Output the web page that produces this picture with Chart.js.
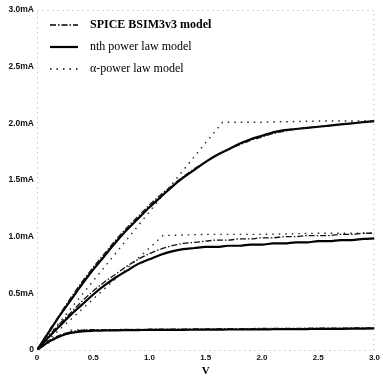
<!DOCTYPE html>
<html>
<head>
<meta charset="utf-8">
<script src="https://cdn.jsdelivr.net/npm/chart.js@4.4.0/dist/chart.umd.min.js"></script>
<style>
html, body { margin: 0; padding: 0; background: #fff; }
#wrap { width: 383px; height: 378px; }
</style>
</head>
<body>
<div id="wrap"><canvas id="myChart"></canvas></div>
<script>
// drain voltage (V) for the SPICE and nth power law curves
var voltage = [0, 0.1, 0.2, 0.3, 0.4, 0.5, 0.6, 0.7, 0.8, 0.9, 1.0, 1.1, 1.2, 1.3, 1.4, 1.5,
	1.6, 1.7, 1.8, 1.9, 2.0, 2.1, 2.2, 2.3, 2.4, 2.5, 2.6, 2.7, 2.8, 2.9, 3.0];

// drain current (mA), three gate voltages
var spiceHigh = [0, 0.16, 0.31, 0.46, 0.60, 0.73, 0.85, 0.97, 1.08, 1.18, 1.28, 1.37, 1.45, 1.53, 1.60, 1.66,
	1.72, 1.77, 1.81, 1.85, 1.88, 1.91, 1.93, 1.95, 1.96, 1.97, 1.98, 1.99, 2.00, 2.01, 2.02];
var spiceMid = [0, 0.12, 0.23, 0.33, 0.43, 0.52, 0.60, 0.67, 0.74, 0.80, 0.85, 0.89, 0.92, 0.94, 0.95, 0.96,
	0.97, 0.97, 0.98, 0.98, 0.99, 0.99, 1.00, 1.00, 1.01, 1.01, 1.01, 1.02, 1.02, 1.03, 1.03];
var spiceLow = [0, 0.08, 0.13, 0.16, 0.175, 0.18, 0.18, 0.18, 0.182, 0.182, 0.183, 0.184, 0.185, 0.185, 0.186, 0.187,
	0.187, 0.188, 0.188, 0.189, 0.19, 0.19, 0.191, 0.191, 0.192, 0.192, 0.193, 0.193, 0.194, 0.195, 0.195];

var nthHigh = [0, 0.15, 0.30, 0.44, 0.58, 0.71, 0.83, 0.95, 1.06, 1.16, 1.26, 1.35, 1.44, 1.52, 1.59, 1.66,
	1.72, 1.77, 1.82, 1.86, 1.89, 1.92, 1.94, 1.95, 1.96, 1.97, 1.98, 1.99, 2.00, 2.01, 2.02];
var nthMid = [0, 0.11, 0.21, 0.31, 0.40, 0.49, 0.57, 0.64, 0.70, 0.76, 0.80, 0.84, 0.87, 0.89, 0.90, 0.91,
	0.91, 0.92, 0.92, 0.93, 0.93, 0.94, 0.94, 0.95, 0.95, 0.96, 0.96, 0.97, 0.97, 0.98, 0.985];
var nthLow = [0, 0.07, 0.12, 0.15, 0.165, 0.17, 0.172, 0.174, 0.175, 0.176, 0.177, 0.177, 0.178, 0.178, 0.179, 0.18,
	0.18, 0.181, 0.181, 0.182, 0.182, 0.183, 0.184, 0.184, 0.185, 0.186, 0.186, 0.187, 0.188, 0.189, 0.19];

// alpha-power law: linear region then flat, read at its own points
var alphaHighV = [0, 0.5, 1.0, 1.5, 1.65, 2.0, 2.5, 3.0];
var alphaHigh = [0, 0.61, 1.22, 1.83, 2.01, 2.01, 2.02, 2.02];
var alphaMidV = [0, 0.5, 1.0, 1.12, 1.5, 2.0, 2.5, 3.0];
var alphaMid = [0, 0.45, 0.90, 1.01, 1.02, 1.02, 1.03, 1.03];
var alphaLowV = [0, 0.15, 0.3, 0.5, 1.0, 1.5, 2.0, 2.5, 3.0];
var alphaLow = [0, 0.09, 0.175, 0.18, 0.18, 0.182, 0.185, 0.188, 0.19];

var xTickLabels = ['0', '0.5', '1.0', '1.5', '2.0', '2.5', '3.0'];
var yTickLabels = ['0', '0.5mA', '1.0mA', '1.5mA', '2.0mA', '2.5mA', '3.0mA'];
var legendNames = ['SPICE BSIM3v3 model', 'nth power law model', '\u03b1-power law model'];

function pts(xs, ys) {
	return xs.map(function(x, i){ return {x: x, y: ys[i]}; });
}

var spiceStyle = { borderColor: '#111', borderWidth: 1.3, borderDash: [6, 2, 1.5, 2], tension: 0.3, cubicInterpolationMode: 'monotone' };
var nthStyle = { borderColor: '#000', borderWidth: 2.2, borderDash: [], tension: 0.3, cubicInterpolationMode: 'monotone' };
var alphaStyle = { borderColor: '#222', borderWidth: 1.4, borderDash: [1.5, 5], tension: 0 };

function ds(label, data, style) {
	return Object.assign({ label: label, data: data, pointRadius: 0, fill: false }, style);
}

var datasets = [
	ds(legendNames[0], pts(voltage, spiceHigh), spiceStyle),
	ds(legendNames[0], pts(voltage, spiceMid), spiceStyle),
	ds(legendNames[0], pts(voltage, spiceLow), spiceStyle),
	ds(legendNames[1], pts(voltage, nthHigh), nthStyle),
	ds(legendNames[1], pts(voltage, nthMid), nthStyle),
	ds(legendNames[1], pts(voltage, nthLow), nthStyle),
	ds(legendNames[2], pts(alphaHighV, alphaHigh), alphaStyle),
	ds(legendNames[2], pts(alphaMidV, alphaMid), alphaStyle),
	ds(legendNames[2], pts(alphaLowV, alphaLow), alphaStyle)
];

// legend drawn in the upper left corner of the plot, plus a faint dotted frame
var cornerLegend = {
	id: 'cornerLegend',
	beforeDatasetsDraw: function(chart) {
		var a = chart.chartArea, ctx = chart.ctx;
		ctx.save();
		ctx.strokeStyle = '#aaa';
		ctx.lineWidth = 1;
		ctx.setLineDash([1, 4]);
		ctx.strokeRect(a.left + 0.5, a.top + 0.5, a.right - a.left - 1, a.bottom - a.top);
		ctx.restore();
	},
	afterDraw: function(chart) {
		var ctx = chart.ctx;
		var styles = [spiceStyle, nthStyle, alphaStyle];
		var rows = [25, 47, 69];
		ctx.save();
		legendNames.forEach(function(name, i){
			ctx.strokeStyle = '#000';
			ctx.lineWidth = styles[i].borderWidth;
			ctx.setLineDash(styles[i].borderDash);
			ctx.beginPath();
			ctx.moveTo(50, rows[i]);
			ctx.lineTo(78, rows[i]);
			ctx.stroke();
			ctx.setLineDash([]);
			ctx.fillStyle = '#000';
			ctx.font = (i == 0 ? 'bold 12px' : '12px') + ' "Liberation Serif"';
			ctx.textBaseline = 'middle';
			ctx.fillText(name, 90, rows[i]);
		});
		ctx.restore();
	}
};

var ctx = document.getElementById('myChart').getContext('2d');
var myChart = new Chart(ctx, {
	type: 'line',
	data: { datasets: datasets },
	plugins: [cornerLegend],
	options: {
		responsive: true,
		maintainAspectRatio: false,
		animation: false,
		layout: { padding: { top: 10, right: 5, left: 0, bottom: 0 } },
		plugins: { legend: { display: false }, tooltip: { enabled: false } },
		scales: {
			x: {
				type: 'linear',
				min: 0, max: 3,
				grid: { display: false, drawTicks: false },
				border: { display: false },
				ticks: {
					stepSize: 0.5,
					maxRotation: 0,
					color: '#111',
					font: { family: 'Liberation Sans', size: 8, weight: 'bold' },
					padding: 3,
					callback: function(v){ return xTickLabels[Math.round(v * 2)]; }
				},
				title: { display: true, text: 'V', color: '#000', padding: { top: 0, bottom: 0 },
					font: { family: 'Liberation Serif', size: 11, weight: 'bold' } },
				afterFit: function(s){ s.height = 28; }
			},
			y: {
				min: 0, max: 3,
				grid: { display: false, drawTicks: false },
				border: { display: false },
				ticks: {
					stepSize: 0.5,
					color: '#111',
					font: { family: 'Liberation Sans', size: 8.5, weight: 'bold' },
					padding: 3,
					callback: function(v){ return yTickLabels[Math.round(v * 2)]; }
				},
				afterFit: function(s){ s.width = 37; }
			}
		}
	}
});
</script>
</body>
</html>
